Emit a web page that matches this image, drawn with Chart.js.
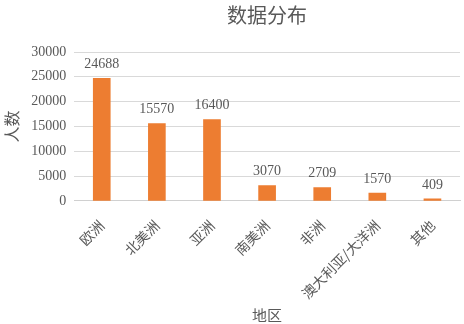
<!DOCTYPE html>
<html>
<head>
<meta charset="utf-8">
<script src="https://cdn.jsdelivr.net/npm/chart.js@4"></script>
<style>
  body { margin: 0; background: #fff; }
</style>
</head>
<body>
<canvas id="chart" width="464" height="324"></canvas>
<script>
// Chart data
const regions = ['欧洲', '北美洲', '亚洲', '南美洲', '非洲', '澳大利亚/大洋洲', '其他'];
const counts = [24688, 15570, 16400, 3070, 2709, 1570, 409];

const textColor = '#595959';
const numFont = '"Liberation Serif", "Noto Sans CJK SC", serif';
const cjkFont = '"Noto Sans CJK SC", sans-serif';

// Draw value above each bar and the title centered over the plot area
const labelPlugin = {
  id: 'barLabels',
  afterDatasetsDraw: function(chart) {
    const ctx = chart.ctx;
    const meta = chart.getDatasetMeta(0);
    ctx.save();
    ctx.fillStyle = textColor;
    ctx.font = '14px ' + numFont;
    ctx.textAlign = 'center';
    ctx.textBaseline = 'bottom';
    meta.data.forEach((bar, i) => {
      ctx.fillText(String(counts[i]), bar.x, bar.y - 7);
    });

    // Title
    const area = chart.chartArea;
    ctx.font = '20px ' + cjkFont;
    ctx.textBaseline = 'middle';
    ctx.fillText('数据分布', (area.left + area.right) / 2, 15);
    ctx.restore();
  }
};

new Chart(document.getElementById('chart'), {
  type: 'bar',
  data: {
    labels: regions,
    datasets: [{
      data: counts,
      backgroundColor: '#ED7D31',
      barThickness: 17
    }]
  },
  options: {
    responsive: false,
    animation: false,
    layout: {
      padding: { top: 52, right: 4, left: 0, bottom: 0 }
    },
    plugins: {
      legend: { display: false },
      tooltip: { enabled: false }
    },
    scales: {
      x: {
        grid: { display: false },
        border: { color: '#d0d0d0' },
        ticks: {
          color: textColor,
          font: { family: cjkFont, size: 14 },
          minRotation: 45,
          maxRotation: 45,
          padding: 8
        },
        title: {
          display: true,
          text: '地区',
          color: textColor,
          font: { family: cjkFont, size: 15 },
          padding: { top: -4, bottom: 0 }
        }
      },
      y: {
        min: 0,
        max: 30000,
        border: { display: false },
        grid: { color: '#d9d9d9', drawTicks: false },
        ticks: {
          stepSize: 5000,
          color: textColor,
          font: { family: numFont, size: 14 },
          padding: 8,
          callback: v => String(v)
        },
        title: {
          display: true,
          text: '人数',
          color: textColor,
          font: { family: cjkFont, size: 16 },
          padding: { top: 2, bottom: 2 }
        }
      }
    }
  },
  plugins: [labelPlugin]
});
</script>
</body>
</html>
